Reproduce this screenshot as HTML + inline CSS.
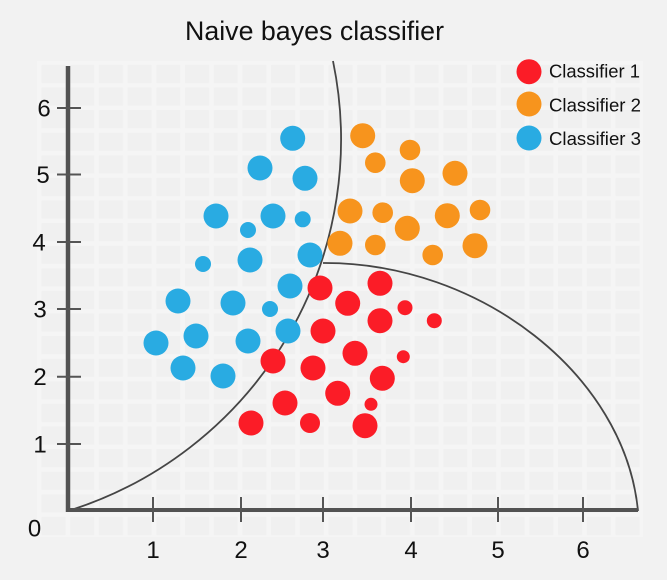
<!DOCTYPE html>
<html>
<head>
<meta charset="utf-8">
<style>
  html, body { margin:0; padding:0; background:#f2f2f2; }
  svg { display:block; }
  text { font-family: "Liberation Sans", "DejaVu Sans", sans-serif; fill:#111; }
</style>
</head>
<body>
<svg width="667" height="580" viewBox="0 0 667 580" xmlns="http://www.w3.org/2000/svg">
  <defs>
    <pattern id="grid" x="37" y="61" width="28.7" height="22.6" patternUnits="userSpaceOnUse">
      <rect x="0" y="0" width="28.7" height="22.6" fill="#f5f5f5"/>
      <rect x="4.5" y="4" width="24" height="18" fill="#f0f0f0"/>
    </pattern>
  </defs>
  <rect x="0" y="0" width="667" height="580" fill="#f2f2f2"/>
  <rect x="37" y="61" width="606" height="476" fill="url(#grid)"/>

  <!-- Title -->
  <text x="185" y="40" font-size="27" textLength="259" lengthAdjust="spacingAndGlyphs">Naive bayes classifier</text>

  <!-- Curves -->
  <path d="M68,511 A389,389 0 0 0 333,61" fill="none" stroke="#454545" stroke-width="1.8"/>
  <path d="M323,263 C480,262 625,375 638,511" fill="none" stroke="#454545" stroke-width="1.8"/>

  <!-- Axes -->
  <line x1="68" y1="66" x2="68" y2="512" stroke="#525252" stroke-width="4.5"/>
  <line x1="66" y1="510" x2="638" y2="510" stroke="#525252" stroke-width="4"/>

  <!-- Y ticks -->
  <g stroke="#555" stroke-width="2">
    <line x1="57" y1="108" x2="81" y2="108"/>
    <line x1="57" y1="174.5" x2="81" y2="174.5"/>
    <line x1="57" y1="242" x2="81" y2="242"/>
    <line x1="57" y1="309" x2="81" y2="309"/>
    <line x1="57" y1="376.7" x2="81" y2="376.7"/>
    <line x1="57" y1="444" x2="81" y2="444"/>
  </g>
  <!-- X ticks -->
  <g stroke="#555" stroke-width="2">
    <line x1="153" y1="497" x2="153" y2="522"/>
    <line x1="241" y1="497" x2="241" y2="522"/>
    <line x1="323" y1="497" x2="323" y2="522"/>
    <line x1="411" y1="497" x2="411" y2="522"/>
    <line x1="498" y1="497" x2="498" y2="522"/>
    <line x1="583" y1="497" x2="583" y2="522"/>
  </g>

  <!-- Y labels -->
  <g font-size="24" text-anchor="middle">
    <text x="44" y="116.5">6</text>
    <text x="43" y="183">5</text>
    <text x="39" y="250.5">4</text>
    <text x="40" y="317.5">3</text>
    <text x="40" y="385">2</text>
    <text x="40" y="452.5">1</text>
    <text x="34.5" y="536.5">0</text>
  </g>
  <!-- X labels -->
  <g font-size="24" text-anchor="middle">
    <text x="153" y="558">1</text>
    <text x="241" y="558">2</text>
    <text x="323" y="558">3</text>
    <text x="411" y="558">4</text>
    <text x="498" y="558">5</text>
    <text x="583" y="558">6</text>
  </g>

  <!-- Blue (Classifier 3) -->
  <g fill="#29abe2">
    <circle cx="292.7" cy="138.3" r="12.5"/>
    <circle cx="260" cy="168" r="12.5"/>
    <circle cx="305" cy="178.3" r="12.5"/>
    <circle cx="216" cy="216" r="12.5"/>
    <circle cx="273" cy="216" r="12.5"/>
    <circle cx="302.7" cy="219.3" r="8"/>
    <circle cx="248" cy="230" r="8"/>
    <circle cx="310" cy="255" r="12.5"/>
    <circle cx="250" cy="260" r="12.5"/>
    <circle cx="203" cy="264" r="8"/>
    <circle cx="290" cy="286" r="12.5"/>
    <circle cx="178" cy="301" r="12.5"/>
    <circle cx="233" cy="303" r="12.5"/>
    <circle cx="270" cy="309" r="8"/>
    <circle cx="156" cy="343" r="12.5"/>
    <circle cx="196" cy="336" r="12.5"/>
    <circle cx="248" cy="341" r="12.5"/>
    <circle cx="288" cy="331" r="12.5"/>
    <circle cx="183" cy="368" r="12.5"/>
    <circle cx="223" cy="376" r="12.5"/>
  </g>

  <!-- Orange (Classifier 2) -->
  <g fill="#f7941d">
    <circle cx="362.7" cy="135.7" r="12.5"/>
    <circle cx="410" cy="150" r="10.3"/>
    <circle cx="375.3" cy="162.7" r="10.3"/>
    <circle cx="412.3" cy="180.7" r="12.5"/>
    <circle cx="455" cy="173.3" r="12.5"/>
    <circle cx="350" cy="211" r="12.5"/>
    <circle cx="382.7" cy="212.7" r="10.3"/>
    <circle cx="407.3" cy="228.3" r="12.5"/>
    <circle cx="447.3" cy="215.7" r="12.5"/>
    <circle cx="480" cy="210" r="10.3"/>
    <circle cx="340" cy="243.3" r="12.5"/>
    <circle cx="375.3" cy="245" r="10.3"/>
    <circle cx="432.7" cy="255" r="10.3"/>
    <circle cx="475" cy="245.7" r="12.5"/>
  </g>

  <!-- Red (Classifier 1) -->
  <g fill="#fb1c27">
    <circle cx="320" cy="288" r="12.5"/>
    <circle cx="380" cy="283.3" r="12.5"/>
    <circle cx="347.7" cy="303.3" r="12.5"/>
    <circle cx="405" cy="307.7" r="7.5"/>
    <circle cx="380" cy="320.7" r="12.5"/>
    <circle cx="434.3" cy="320.7" r="7.5"/>
    <circle cx="323" cy="331" r="12.5"/>
    <circle cx="273" cy="361" r="12.5"/>
    <circle cx="313" cy="368" r="12.5"/>
    <circle cx="355" cy="353.3" r="12.5"/>
    <circle cx="403.3" cy="356.7" r="6.5"/>
    <circle cx="382.3" cy="378.3" r="12.5"/>
    <circle cx="337.7" cy="393.3" r="12.5"/>
    <circle cx="285" cy="403" r="12.5"/>
    <circle cx="371" cy="404.3" r="6.5"/>
    <circle cx="251" cy="423" r="12.5"/>
    <circle cx="310" cy="423" r="10"/>
    <circle cx="365" cy="425.7" r="12.5"/>
  </g>

  <!-- Legend -->
  <circle cx="529" cy="71.7" r="12.5" fill="#fb1c27"/>
  <circle cx="529" cy="104" r="12.5" fill="#f7941d"/>
  <circle cx="529" cy="138" r="12.5" fill="#29abe2"/>
  <g font-size="18.5">
    <text x="549" y="77.5" textLength="91" lengthAdjust="spacingAndGlyphs">Classifier 1</text>
    <text x="549" y="111.5" textLength="92" lengthAdjust="spacingAndGlyphs">Classifier 2</text>
    <text x="549" y="145" textLength="92" lengthAdjust="spacingAndGlyphs">Classifier 3</text>
  </g>
</svg>
</body>
</html>
